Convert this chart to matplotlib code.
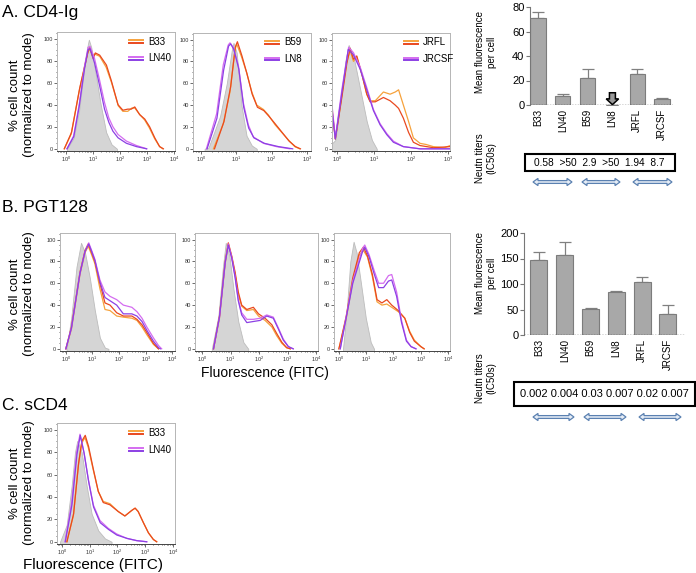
import matplotlib
matplotlib.use("Agg")
import matplotlib.pyplot as plt
from matplotlib.patches import Polygon, Rectangle
from matplotlib.ticker import MultipleLocator, FixedLocator

plt.rcParams['font.family'] = ['Liberation Sans', 'DejaVu Sans']
plt.rcParams['mathtext.fontset'] = 'custom'
plt.rcParams['mathtext.rm'] = 'Liberation Sans'

W, H = 696, 573

# histogram curves: (log10 fluorescence, % of mode)
a1_gray = [(0.05, 0), (0.3, 10), (0.5, 35), (0.65, 65), (0.8, 92), (0.86, 99), (0.95, 92), (1.1, 70), (1.3, 40), (1.5, 15), (1.7, 4), (1.9, 0)]
a1_orange = [(-0.05, 0), (0.2, 13), (0.5, 52), (0.8, 86), (0.88, 91), (1.0, 84), (1.07, 86), (1.26, 84), (1.5, 74), (1.7, 60), (1.95, 39), (2.12, 34), (2.3, 34), (2.45, 37), (2.56, 37), (2.75, 31), (2.93, 26), (3.1, 19), (3.3, 9), (3.48, 2), (3.6, 0)]
a1_red = [(-0.05, 0), (0.22, 15), (0.52, 55), (0.83, 88), (0.9, 92), (1.02, 82), (1.1, 87), (1.26, 85), (1.51, 76), (1.69, 62), (1.94, 40), (2.12, 35), (2.3, 36), (2.43, 36), (2.56, 38), (2.74, 31), (2.93, 27), (3.11, 20), (3.3, 10), (3.48, 2), (3.62, 0)]
a1_violet = [(0.05, 0), (0.3, 12), (0.5, 40), (0.7, 75), (0.83, 92), (0.9, 93), (1.07, 82), (1.26, 62), (1.44, 42), (1.6, 28), (1.75, 20), (1.94, 13), (2.25, 7), (2.62, 3), (3.0, 0)]
a1_purple = [(0.05, 0), (0.3, 11), (0.5, 38), (0.7, 73), (0.83, 90), (0.9, 91), (1.07, 78), (1.26, 57), (1.44, 36), (1.6, 24), (1.75, 16), (1.94, 10), (2.25, 5), (2.62, 2), (3.0, 0)]

a2_gray = [(0.1, 0), (0.21, 1), (0.54, 30), (0.73, 60), (0.87, 90), (0.92, 97), (1.01, 88), (1.15, 39), (1.29, 12), (1.44, 3), (1.58, 0)]
a2_orange = [(0.35, 0), (0.63, 23), (0.82, 52), (0.96, 90), (1.01, 96), (1.15, 84), (1.29, 70), (1.44, 52), (1.58, 40), (1.77, 36), (1.91, 31), (2.1, 22), (2.29, 15), (2.48, 8), (2.66, 2), (2.8, 0)]
a2_red = [(0.38, 0), (0.65, 25), (0.84, 57), (0.97, 93), (1.03, 98), (1.16, 85), (1.3, 69), (1.45, 50), (1.6, 38), (1.78, 35), (1.92, 30), (2.1, 23), (2.3, 15), (2.5, 7), (2.68, 2), (2.82, 0)]
a2_violet = [(0.15, 0), (0.44, 32), (0.63, 77), (0.77, 95), (0.82, 97), (0.91, 93), (1.06, 76), (1.2, 42), (1.34, 22), (1.48, 11), (1.77, 5), (2.14, 2), (2.52, 0)]
a2_purple = [(0.17, 0), (0.45, 28), (0.64, 72), (0.78, 94), (0.84, 96), (0.93, 91), (1.07, 73), (1.21, 38), (1.35, 19), (1.5, 10), (1.8, 5), (2.2, 2), (2.6, 0)]

a3_gray = [(-0.14, 5), (-0.05, 8), (0.08, 40), (0.22, 80), (0.31, 95), (0.44, 85), (0.62, 55), (0.8, 25), (0.94, 8), (1.07, 0)]
a3_orange = [(-0.14, 38), (-0.05, 9), (0.13, 50), (0.26, 80), (0.35, 90), (0.44, 80), (0.53, 84), (0.67, 68), (0.8, 50), (0.89, 44), (1.03, 44), (1.25, 52), (1.43, 50), (1.57, 52), (1.66, 54), (1.79, 40), (1.93, 25), (2.06, 10), (2.24, 5), (2.4, 4), (2.6, 2), (2.9, 1), (3.05, 3)]
a3_red = [(-0.14, 35), (-0.05, 9), (0.13, 48), (0.26, 78), (0.35, 92), (0.44, 82), (0.53, 85), (0.67, 68), (0.8, 50), (0.89, 43), (1.03, 43), (1.25, 47), (1.43, 44), (1.57, 40), (1.66, 37), (1.79, 28), (1.93, 15), (2.06, 6), (2.24, 3), (2.6, 1), (3.05, 2)]
a3_violet = [(-0.14, 40), (-0.05, 10), (0.13, 55), (0.31, 93), (0.44, 88), (0.62, 75), (0.8, 56), (0.98, 36), (1.16, 23), (1.34, 14), (1.52, 7), (1.79, 2), (2.24, 0), (3.05, 0)]
a3_purple = [(-0.14, 36), (-0.05, 9), (0.13, 52), (0.3, 91), (0.44, 86), (0.62, 73), (0.8, 54), (0.98, 35), (1.16, 22), (1.34, 13), (1.52, 6), (1.79, 2), (2.24, 0), (3.05, 0)]

b1_gray = [(0.03, 0), (0.21, 30), (0.4, 75), (0.57, 97), (0.72, 88), (0.9, 65), (1.09, 35), (1.28, 10), (1.47, 1), (1.6, 0)]
b1_orange = [(0.0, 0), (0.21, 18), (0.53, 68), (0.72, 88), (0.84, 94), (0.97, 86), (1.09, 78), (1.28, 55), (1.47, 36), (1.66, 35), (1.91, 30), (2.16, 29), (2.48, 28), (2.67, 26), (2.86, 20), (3.04, 13), (3.29, 4), (3.48, 0)]
b1_red = [(0.0, 0), (0.21, 20), (0.53, 70), (0.72, 90), (0.84, 96), (0.97, 88), (1.09, 80), (1.28, 60), (1.47, 42), (1.66, 40), (1.91, 33), (2.16, 30), (2.48, 30), (2.67, 27), (2.86, 22), (3.04, 15), (3.29, 5), (3.48, 0)]
b1_violet = [(0.0, 0), (0.21, 19), (0.53, 69), (0.72, 89), (0.86, 97), (0.97, 90), (1.09, 82), (1.28, 63), (1.47, 52), (1.66, 48), (1.91, 45), (2.16, 40), (2.48, 38), (2.67, 34), (2.86, 28), (3.04, 20), (3.29, 10), (3.48, 3), (3.6, 0)]
b1_purple = [(0.0, 0), (0.21, 19), (0.53, 69), (0.72, 89), (0.86, 96), (0.97, 89), (1.09, 81), (1.28, 61), (1.47, 47), (1.66, 44), (1.91, 40), (2.16, 32), (2.48, 32), (2.67, 30), (2.86, 25), (3.04, 17), (3.29, 7), (3.48, 1), (3.55, 0)]

b2_gray = [(0.34, 0), (0.57, 30), (0.73, 75), (0.83, 97), (0.96, 85), (1.1, 55), (1.27, 25), (1.45, 6), (1.62, 0)]
b2_orange = [(0.4, 0), (0.61, 28), (0.81, 78), (0.92, 96), (1.04, 84), (1.16, 68), (1.27, 50), (1.39, 39), (1.57, 35), (1.8, 36), (1.98, 30), (2.21, 26), (2.45, 20), (2.62, 12), (2.8, 5), (2.97, 1), (3.1, 0)]
b2_red = [(0.4, 0), (0.61, 30), (0.81, 80), (0.92, 97), (1.04, 85), (1.16, 70), (1.27, 52), (1.39, 40), (1.57, 36), (1.8, 38), (1.98, 32), (2.21, 28), (2.45, 22), (2.62, 14), (2.8, 6), (2.97, 1), (3.1, 0)]
b2_violet = [(0.4, 0), (0.61, 29), (0.81, 79), (0.92, 96), (1.04, 84), (1.16, 66), (1.27, 45), (1.39, 33), (1.57, 27), (1.8, 27), (2.04, 28), (2.27, 31), (2.5, 29), (2.68, 19), (2.85, 9), (3.03, 2), (3.2, 0)]
b2_purple = [(0.4, 0), (0.61, 29), (0.81, 79), (0.92, 95), (1.04, 83), (1.16, 65), (1.27, 44), (1.39, 31), (1.57, 24), (1.8, 25), (2.04, 26), (2.27, 30), (2.5, 28), (2.68, 18), (2.85, 8), (3.03, 2), (3.2, 0)]

b3_gray = [(0.15, 0), (0.27, 30), (0.42, 80), (0.54, 98), (0.65, 88), (0.81, 60), (0.99, 28), (1.17, 6), (1.29, 0)]
b3_orange = [(0.0, 0), (0.27, 28), (0.51, 62), (0.75, 86), (0.9, 90), (1.05, 84), (1.23, 66), (1.4, 43), (1.58, 40), (1.76, 41), (1.94, 38), (2.18, 34), (2.42, 28), (2.6, 16), (2.77, 8), (3.01, 2), (3.13, 0)]
b3_red = [(0.0, 0), (0.27, 30), (0.51, 65), (0.75, 88), (0.9, 93), (1.05, 85), (1.23, 68), (1.4, 45), (1.58, 42), (1.76, 45), (1.94, 40), (2.18, 35), (2.42, 28), (2.6, 15), (2.77, 7), (3.01, 2), (3.13, 0)]
b3_violet = [(0.05, 0), (0.51, 62), (0.87, 92), (0.95, 95), (1.11, 86), (1.29, 72), (1.46, 60), (1.64, 60), (1.82, 67), (1.94, 68), (2.12, 52), (2.3, 26), (2.48, 8), (2.65, 2), (2.83, 0)]
b3_purple = [(0.05, 0), (0.51, 60), (0.87, 89), (0.95, 93), (1.11, 84), (1.29, 69), (1.46, 56), (1.64, 56), (1.82, 62), (1.94, 63), (2.12, 48), (2.3, 24), (2.48, 7), (2.65, 2), (2.83, 0)]

c_gray = [(-0.07, 0), (0.17, 15), (0.35, 50), (0.47, 80), (0.55, 90), (0.71, 80), (0.89, 50), (1.07, 25), (1.31, 10), (1.55, 3), (1.79, 0)]
c_orange = [(0.17, 0), (0.41, 23), (0.59, 68), (0.71, 88), (0.83, 93), (0.95, 84), (1.13, 64), (1.31, 45), (1.49, 36), (1.73, 34), (2.03, 27), (2.27, 23), (2.52, 28), (2.64, 30), (2.75, 27), (2.94, 17), (3.12, 8), (3.3, 2), (3.42, 0)]
c_red = [(0.18, 0), (0.42, 25), (0.6, 70), (0.72, 90), (0.84, 95), (0.96, 85), (1.13, 65), (1.31, 45), (1.49, 35), (1.73, 33), (2.03, 27), (2.27, 23), (2.52, 28), (2.64, 30), (2.75, 27), (2.94, 17), (3.12, 8), (3.3, 2), (3.42, 0)]
c_violet = [(0.11, 0), (0.35, 35), (0.53, 80), (0.65, 96), (0.79, 80), (0.95, 56), (1.13, 33), (1.37, 19), (1.67, 12), (1.97, 7), (2.34, 3), (2.7, 1), (3.06, 0)]
c_purple = [(0.12, 0), (0.36, 33), (0.54, 78), (0.66, 95), (0.8, 79), (0.96, 54), (1.14, 31), (1.38, 17), (1.68, 11), (1.98, 6), (2.35, 3), (2.7, 1), (3.06, 0)]

# bar charts
strains = ['B33', 'LN40', 'B59', 'LN8', 'JRFL', 'JRCSF']
cd4ig_mfi = [71, 7, 22, 0, 25, 5]
cd4ig_err = [5, 2, 7, 0, 4, 0.5]
pgt128_mfi = [148, 157, 51, 85, 104, 42]
pgt128_err = [14, 26, 1, 1, 9, 16]
cd4ig_titers = ['0.58', '>50', '2.9', '>50', '1.94', '8.7']
pgt128_titers = ['0.002', '0.004', '0.03', '0.007', '0.02', '0.007']

ORANGE, RED, VIOLET, PURPLE = '#f6a23c', '#e9491f', '#d46cf0', '#8c40e4'

fig = plt.figure(figsize=(W / 100, H / 100), dpi=100)


def px_axes(l, t, r, b):
    return fig.add_axes([l / W, 1 - b / H, (r - l) / W, (b - t) / H])


def histo(rect, xlim, ndec, gray, curves, legend=None):
    ax = px_axes(*rect)
    gx, gy = zip(*gray)
    ax.fill_between(gx, gy, -5, color='#d5d5d5', ec='#bcbcbc', lw=0.6)
    for pts, col in zip(curves, [ORANGE, RED, VIOLET, PURPLE]):
        x, y = zip(*pts)
        ax.plot(x, y, color=col, lw=0.9)
    ax.set_xlim(*xlim)
    ax.set_ylim(-2, 106)
    ax.set_xticks(range(ndec + 1))
    ax.set_xticklabels(['$10^{%d}$' % d for d in range(ndec + 1)])
    minors = [d + m for d in range(-1, ndec + 1) for m in [0.301, 0.477, 0.602, 0.699, 0.778, 0.845, 0.903, 0.954]]
    ax.xaxis.set_minor_locator(FixedLocator(minors))
    ax.set_yticks(range(0, 101, 20))
    ax.yaxis.set_minor_locator(MultipleLocator(5))
    ax.tick_params(which='both', labelsize=4, width=0.5, pad=1, colors='#333333')
    ax.tick_params(which='major', length=2)
    ax.tick_params(which='minor', length=1)
    for s in ax.spines.values():
        s.set_color('#b5b5b5')
        s.set_linewidth(0.7)
    ax.spines['bottom'].set_color('#444444')
    if legend:
        for i, (name, c1, c2) in enumerate(legend):
            yy = 0.92 - i * 0.14
            ax.plot([0.61, 0.73], [yy + 0.012, yy + 0.012], color=c1, lw=1.4, transform=ax.transAxes)
            ax.plot([0.61, 0.73], [yy - 0.012, yy - 0.012], color=c2, lw=1.4, transform=ax.transAxes)
            ax.text(0.77, yy, name, fontsize=7, va='center', transform=ax.transAxes)
    return ax


histo((57, 32, 175, 151), (-0.32, 4.05), 4, a1_gray, [a1_orange, a1_red, a1_violet, a1_purple],
      [('B33', ORANGE, RED), ('LN40', VIOLET, PURPLE)])
histo((193, 33, 311, 151), (-0.23, 3.12), 3, a2_gray, [a2_orange, a2_red, a2_violet, a2_purple],
      [('B59', ORANGE, RED), ('LN8', VIOLET, PURPLE)])
histo((332, 33, 450, 151), (-0.14, 3.05), 3, a3_gray, [a3_orange, a3_red, a3_violet, a3_purple],
      [('JRFL', ORANGE, RED), ('JRCSF', VIOLET, PURPLE)])
histo((60, 233, 175, 351), (-0.22, 4.1), 4, b1_gray, [b1_orange, b1_red, b1_violet, b1_purple])
histo((195, 233, 318, 351), (-0.25, 4.07), 4, b2_gray, [b2_orange, b2_red, b2_violet, b2_purple])
histo((334, 233, 450, 351), (-0.18, 4.08), 4, b3_gray, [b3_orange, b3_red, b3_violet, b3_purple])
histo((57, 423, 175, 544), (-0.18, 4.08), 4, c_gray, [c_orange, c_red, c_violet, c_purple],
      [('B33', ORANGE, RED), ('LN40', VIOLET, PURPLE)])


def fx(px):
    return px / W


def fy(py):
    return 1 - py / H


fig.text(fx(2), fy(12), 'A. CD4-Ig', fontsize=12.5, va='center')
fig.text(fx(2), fy(207), 'B. PGT128', fontsize=12.5, va='center')
fig.text(fx(2), fy(406), 'C. sCD4', fontsize=12.5, va='center')
for yc in [95, 294, 483]:
    fig.text(fx(22), fy(yc), '% cell count\n(normalized to mode)', fontsize=9.5,
             rotation=90, ha='center', va='center', linespacing=1.15)
fig.text(fx(265), fy(373), 'Fluorescence (FITC)', fontsize=10, ha='center', va='center')
fig.text(fx(93), fy(565), 'Fluorescence (FITC)', fontsize=11, ha='center', va='center')


def bars(rect, xlim, vals, errs, ylim, step, width):
    ax = px_axes(*rect)
    pos = range(len(strains))
    ax.bar(pos, vals, width=width, color='#a8a8a8', edgecolor='#7c7c7c', lw=0.8, zorder=2)
    ax.errorbar(pos, vals, yerr=[[0] * len(errs), errs], fmt='none', ecolor='#808080',
                elinewidth=0.9, capsize=4, capthick=0.9, zorder=1)
    ax.axhline(0, color='#333333', lw=1, ls=(0, (1, 1)), zorder=3)
    ax.set_xlim(*xlim)
    ax.set_ylim(*ylim)
    ax.set_yticks(range(ylim[0], ylim[1] + 1, step))
    ax.set_xticks(list(pos))
    ax.set_xticklabels(strains, rotation=90, fontsize=7)
    ax.tick_params(axis='x', length=0, pad=3)
    ax.tick_params(axis='y', labelsize=8, length=3, width=0.8, color='#777777', pad=1)
    for s in ['top', 'right', 'bottom']:
        ax.spines[s].set_visible(False)
    ax.spines['left'].set_color('#777777')
    return ax


ax_top = bars((530, 7, 673, 105), (-0.32, 5.44), cd4ig_mfi, cd4ig_err, (0, 80), 20, 0.62)
# block arrow pointing down at LN8 (no detectable binding)
i_ln8 = strains.index('LN8')
base = cd4ig_mfi[i_ln8]
tw, hw, hl, top = 0.12, 0.25, 5.0, 10.0
arrow_pts = [(i_ln8 - tw, base + top), (i_ln8 + tw, base + top), (i_ln8 + tw, base + hl),
             (i_ln8 + hw, base + hl), (i_ln8, base + 0.3), (i_ln8 - hw, base + hl), (i_ln8 - tw, base + hl)]
ax_top.add_patch(Polygon(arrow_pts, closed=True, fc='#9a9a9a', ec='black', lw=1.1, zorder=4))
bars((524, 233, 685, 335), (-0.58, 5.66), pgt128_mfi, pgt128_err, (0, 200), 50, 0.66)

for yc in [52, 273]:
    fig.text(fx(486), fy(yc), 'Mean fluorescence\nper cell', fontsize=7, rotation=90,
             ha='center', va='center', linespacing=1.2)
for yc in [158, 378]:
    fig.text(fx(486), fy(yc), 'Neutn titers\n(IC50s)', fontsize=7, rotation=90,
             ha='center', va='center', linespacing=1.2)

# titer boxes
fig.patches.append(Rectangle((fx(525), fy(171)), (675 - 525) / W, (171 - 154) / H, fill=False,
                             ec='black', lw=1.5, transform=fig.transFigure))
fig.text(fx(599), fy(163), '  '.join(cd4ig_titers), fontsize=7.3, ha='center', va='center')
fig.patches.append(Rectangle((fx(514), fy(406)), (695 - 514) / W, (406 - 382) / H, fill=False,
                             ec='black', lw=1.5, transform=fig.transFigure))
fig.text(fx(604), fy(394), ' '.join(pgt128_titers), fontsize=8, ha='center', va='center')


def darrow(x0, x1, yc, hl=5, hh=3.6, sh=1.4):
    pts = [(x0, yc), (x0 + hl, yc - hh), (x0 + hl, yc - sh), (x1 - hl, yc - sh), (x1 - hl, yc - hh),
           (x1, yc), (x1 - hl, yc + hh), (x1 - hl, yc + sh), (x0 + hl, yc + sh), (x0 + hl, yc + hh)]
    fig.patches.append(Polygon([(fx(x), fy(y)) for x, y in pts], closed=True, fc='#e6edf6',
                               ec='#5b81b1', lw=0.9, transform=fig.transFigure))


for x0, x1 in [(533, 572), (582, 620), (633, 672)]:
    darrow(x0, x1, 182)
for x0, x1 in [(533, 574), (584, 626), (639, 681)]:
    darrow(x0, x1, 417)

fig.savefig('out.png', dpi=100)
